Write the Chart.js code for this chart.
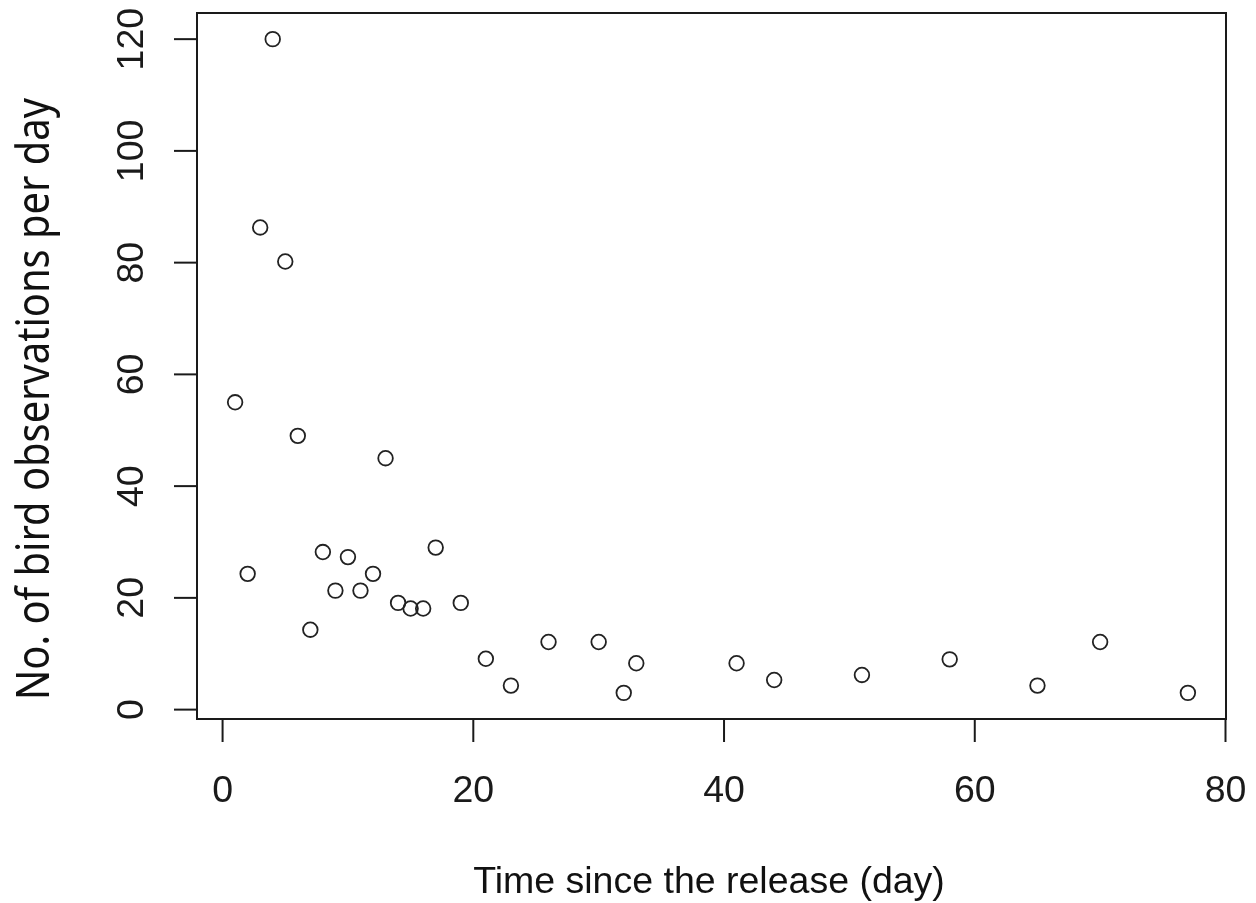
<!DOCTYPE html>
<html>
<head>
<meta charset="utf-8">
<script src="https://cdn.jsdelivr.net/npm/chart.js@4/dist/chart.umd.min.js"></script>
<style>
  html, body { margin: 0; padding: 0; background: #fff; }
  #wrap { width: 1256px; height: 903px; position: relative; }
</style>
</head>
<body>
<div id="wrap"><canvas id="chart"></canvas></div>
<script>
// data
const days = [1, 2, 3, 4, 5, 6, 7, 8, 9, 10, 11, 12, 13, 14, 15, 16, 17, 19, 21, 23, 26, 30, 32, 33, 41, 44, 51, 58, 65, 70, 77];
const obsPerDay = [55, 24.3, 86.3, 120, 80.2, 49, 14.3, 28.2, 21.3, 27.3, 21.3, 24.3, 45, 19.1, 18.1, 18.1, 29, 19.1, 9.1, 4.3, 12.1, 12.1, 3, 8.3, 8.3, 5.3, 6.2, 9, 4.3, 12.1, 3];
const xTicks = [0, 20, 40, 60, 80];
const yTicks = [0, 20, 40, 60, 80, 100, 120];
const xTitle = 'Time since the release (day)';
const yTitle = 'No. of bird observations per day';

const points = days.map((d, i) => ({ x: d, y: obsPerDay[i] }));

// R style box + axes, drawn from the chart's own scales
const rAxes = {
  id: 'rAxes',
  afterDraw(chart) {
    const ctx = chart.ctx;
    const a = chart.chartArea;
    const xs = chart.scales.x;
    const ys = chart.scales.y;
    ctx.save();
    ctx.strokeStyle = '#1a1a1a';
    ctx.fillStyle = '#1a1a1a';
    ctx.lineWidth = 2;
    ctx.strokeRect(a.left, a.top, a.right - a.left, a.bottom - a.top);

    // x ticks
    ctx.font = '37.5px "Liberation Sans", Arial, sans-serif';
    ctx.textAlign = 'center';
    ctx.textBaseline = 'alphabetic';
    xTicks.forEach(t => {
      const px = xs.getPixelForValue(t);
      ctx.beginPath();
      ctx.moveTo(px, a.bottom);
      ctx.lineTo(px, a.bottom + 23);
      ctx.stroke();
      ctx.fillText(String(t), px, 802);
    });

    // y ticks, labels turned like R does
    yTicks.forEach(t => {
      const py = ys.getPixelForValue(t);
      ctx.beginPath();
      ctx.moveTo(a.left, py);
      ctx.lineTo(a.left - 23, py);
      ctx.stroke();
      ctx.save();
      ctx.translate(142.5, py);
      ctx.rotate(-Math.PI / 2);
      ctx.fillText(String(t), 0, 0);
      ctx.restore();
    });

    // axis titles
    ctx.fillStyle = '#111';
    ctx.fillText(xTitle, 709, 893);

    ctx.save();
    ctx.font = '45px "Noto Sans", sans-serif';
    ctx.textAlign = 'left';
    ctx.translate(49, 700);
    ctx.rotate(-Math.PI / 2);
    const w = ctx.measureText(yTitle).width;
    ctx.scale(602 / w, 1);
    ctx.fillText(yTitle, 0, 0);
    ctx.restore();

    ctx.restore();
  }
};

new Chart(document.getElementById('chart'), {
  type: 'scatter',
  data: {
    datasets: [{
      data: points,
      pointStyle: 'circle',
      pointRadius: 7.3,
      pointHoverRadius: 7.3,
      borderWidth: 1.8,
      borderColor: '#222',
      backgroundColor: 'rgba(0,0,0,0)'
    }]
  },
  options: {
    responsive: true,
    maintainAspectRatio: false,
    animation: false,
    layout: { padding: { left: 197, right: 30, top: 13, bottom: 184 } },
    plugins: { legend: { display: false }, tooltip: { enabled: false } },
    scales: {
      x: { type: 'linear', min: -2.04, max: 80.04, display: false },
      y: { type: 'linear', min: -1.68, max: 124.68, display: false }
    }
  },
  plugins: [rAxes]
});
</script>
</body>
</html>
